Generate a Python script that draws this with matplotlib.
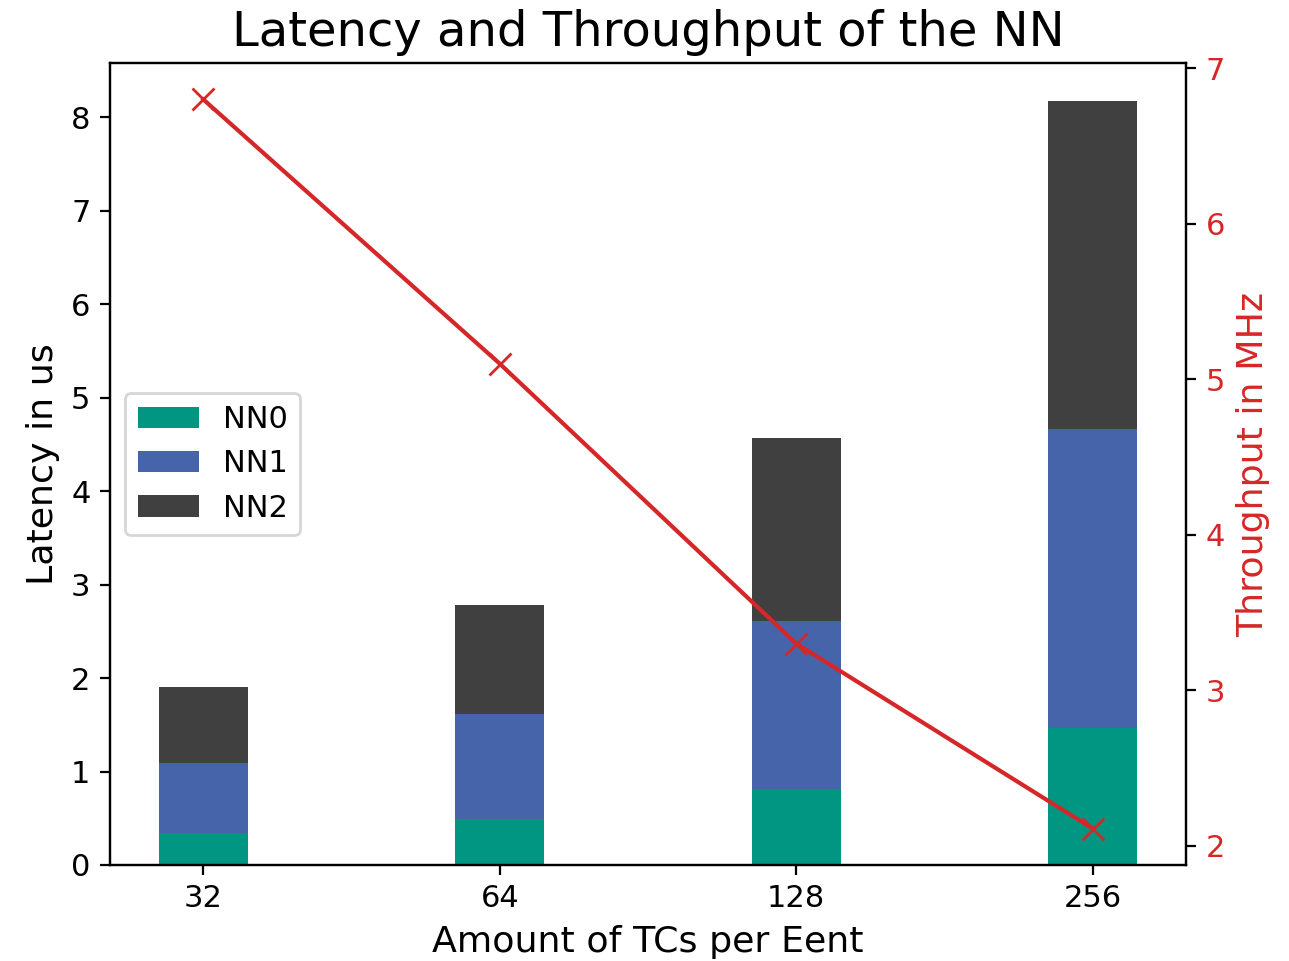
import matplotlib
matplotlib.use('Agg')
import matplotlib.pyplot as plt
import numpy as np

####################
# Data

tcs        = ['32', '64', '128', '256']
nn0        = [0.34, 0.49, 0.81, 1.47]
nn1        = [0.75, 1.12, 1.80, 3.19]
nn2        = [0.81, 1.17, 1.96, 3.51]
throughput = [6.80, 5.10, 3.30, 2.11]

####################
# Plotting

x = np.arange(len(tcs))
width = 0.3

fig, ax1 = plt.subplots(figsize=(1289/200, 961/200), dpi=200)
fig.subplots_adjust(left=110/1289, right=1186/1289, top=1-63/961, bottom=1-865/961)

b0 = np.array(nn0)
b1 = b0 + np.array(nn1)
ax1.bar(x, nn0, width, color='#009682', label='NN0')
ax1.bar(x, nn1, width, bottom=b0, color='#4664aa', label='NN1')
ax1.bar(x, nn2, width, bottom=b1, color='#404040', label='NN2')
ax1.set_xticks(x)
ax1.set_xticklabels(tcs, fontsize=11)
ax1.tick_params(axis='y', labelsize=11)
ax1.set_xlabel('Amount of TCs per Eent', fontsize=13.1)
ax1.set_ylabel('Latency in us', fontsize=13.1)
ax1.set_title('Latency and Throughput of the NN', fontsize=17.3)
ax1.legend(loc='center left', fontsize=11)

ax2 = ax1.twinx()
ax2.plot(x, throughput, color='tab:red', marker='x', markersize=8)
ax2.set_ylabel('Throughput in MHz', color='tab:red', fontsize=13.1)
ax2.tick_params(axis='y', labelcolor='tab:red', labelsize=11)

plt.savefig('out.png', dpi=200)
